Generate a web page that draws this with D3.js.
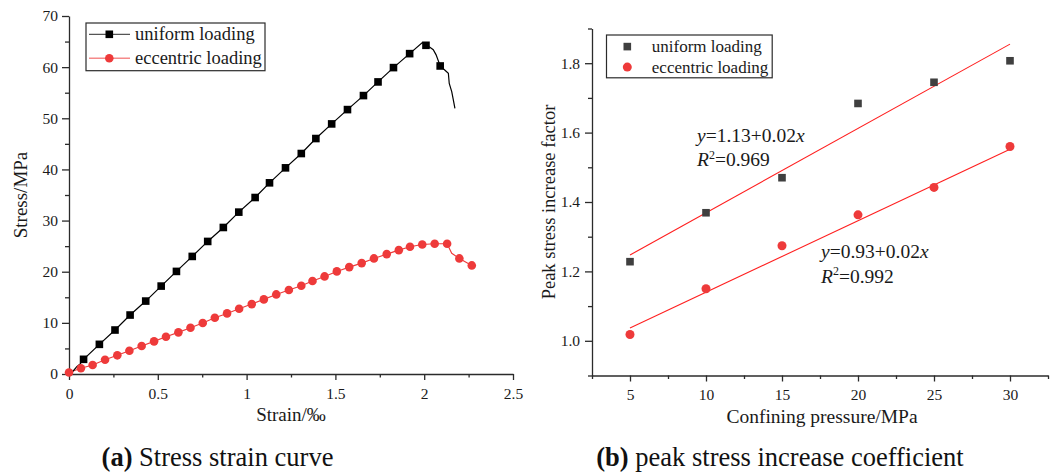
<!DOCTYPE html>
<html>
<head>
<meta charset="utf-8">
<script src="https://cdn.jsdelivr.net/npm/d3@7"></script>
<style>
  html, body { margin: 0; padding: 0; background: #fff; }
  svg { display: block; font-family: "Liberation Serif", "Times New Roman", serif; }
</style>
</head>
<body>
<svg id="fig" width="1056" height="474"></svg>
<script>
// ---------- (a) stress–strain curves ----------
// marker samples
const uniformStrain = [0.082, 0.171, 0.259, 0.344, 0.432, 0.519, 0.605, 0.694, 0.781, 0.869, 0.956, 1.048,
  1.129, 1.219, 1.308, 1.390, 1.479, 1.568, 1.658, 1.740, 1.827, 1.918, 2.010, 2.090];
const uniformStress = [2.87, 5.80, 8.60, 11.53, 14.26, 17.19, 20.06, 22.99, 25.92, 28.65, 31.65, 34.51,
  37.38, 40.31, 43.11, 46.04, 48.90, 51.70, 54.44, 57.11, 59.91, 62.64, 64.27, 60.23];
// extra recorded points between markers (start-up and post-peak branch)
const uniformTraceStrain = [0, 0.025, 0.044, 0.061, 1.990, 2.032, 2.051, 2.067, 2.117, 2.136, 2.141, 2.155, 2.164, 2.173];
const uniformTraceStress = [0, 0.64, 1.43, 1.89, 64.80, 63.90, 63.40, 62.40, 59.40, 58.80, 56.80, 55.20, 53.60, 51.95];

const eccentricStrain = [0.0, 0.067, 0.133, 0.203, 0.272, 0.340, 0.409, 0.479, 0.546, 0.616, 0.684, 0.753,
  0.821, 0.890, 0.958, 1.029, 1.097, 1.167, 1.238, 1.308, 1.371, 1.439, 1.508, 1.578, 1.648, 1.717,
  1.789, 1.857, 1.920, 1.989, 2.059, 2.129, 2.198, 2.268];
const eccentricStress = [0.30, 1.11, 1.76, 2.80, 3.65, 4.56, 5.47, 6.38, 7.29, 8.14, 9.05, 9.96,
  11.00, 11.85, 12.76, 13.67, 14.59, 15.56, 16.41, 17.26, 18.17, 19.08, 20.06, 20.90, 21.68, 22.60,
  23.44, 24.22, 24.87, 25.33, 25.46, 25.46, 22.60, 21.23];
const eccentricTraceStrain = [2.155];
const eccentricTraceStress = [23.60];

const strainTicks = [0, 0.5, 1, 1.5, 2, 2.5];
const stressTicks = [0, 10, 20, 30, 40, 50, 60, 70];

// ---------- (b) peak stress increase factor ----------
const pressure = [5, 10, 15, 20, 25, 30];
const uniformFactor = [1.228, 1.369, 1.470, 1.684, 1.745, 1.807];
const eccentricFactor = [1.018, 1.150, 1.274, 1.363, 1.442, 1.560];
const fitIntercept = [1.126, 0.934];
const fitSlope = [0.0243, 0.0206];
const fitR2 = [0.969, 0.992];

const pressureTicks = [5, 10, 15, 20, 25, 30];
const factorTicks = [1.0, 1.2, 1.4, 1.6, 1.8];

const seriesNames = ["uniform loading", "eccentric loading"];
const captions = [["(a)", " Stress strain curve"], ["(b)", " peak stress increase coefficient"]];

// ---------- styling ----------
const AXIS = "#2b2b2b";
const TEXT = "#1a1a1a";
const RED = "#ee3a3a";
const FIT = "#ff1f1f";
const GREY = "#3f3f3f";

const svg = d3.select("#fig");

function midpoints(ticks, lo, hi) {
  const step = ticks[1] - ticks[0];
  const out = [];
  for (let v = ticks[0] - step / 2; v <= hi + 1e-9; v += step) {
    if (v >= lo - 1e-9) out.push(+v.toFixed(6));
  }
  return out;
}

function drawAxes(g, x, y, xt, yt, xfmt, yfmt, yPad) {
  const xd = x.domain(), yd = y.domain();
  const xAxis = g.append("g").attr("transform", `translate(0,${y.range()[0]})`)
    .call(d3.axisBottom(x).tickValues(xt).tickSize(6).tickSizeOuter(0).tickPadding(7.5).tickFormat(xfmt));
  const xMinor = g.append("g").attr("transform", `translate(0,${y.range()[0]})`)
    .call(d3.axisBottom(x).tickValues(midpoints(xt, xd[0], xd[1])).tickSize(3.5).tickFormat(""));
  xMinor.select(".domain").remove();
  const yAxis = g.append("g").attr("transform", `translate(${x.range()[0]},0)`)
    .call(d3.axisLeft(y).tickValues(yt).tickSize(7).tickSizeOuter(0).tickPadding(yPad).tickFormat(yfmt));
  const yMinor = g.append("g").attr("transform", `translate(${x.range()[0]},0)`)
    .call(d3.axisLeft(y).tickValues(midpoints(yt, yd[0], yd[1])).tickSize(4).tickFormat(""));
  yMinor.select(".domain").remove();
  [xAxis, yAxis, xMinor, yMinor].forEach(a => {
    a.selectAll("path,line").attr("stroke", AXIS).attr("stroke-width", 1.3);
    a.selectAll("text").attr("fill", TEXT).style("font-size", "15.5px")
      .style("font-family", '"Liberation Serif", "Times New Roman", serif');
  });
}

// ====== panel (a) ======
const xa = d3.scaleLinear().domain([0, 2.5]).range([69, 513]);
const ya = d3.scaleLinear().domain([0, 70]).range([374, 16]);
const ga = svg.append("g");
drawAxes(ga, xa, ya, strainTicks, stressTicks, d => String(d), d => String(d), 4);

function mergeTrace(xs, ys, tx, ty) {
  return xs.map((v, i) => [v, ys[i]]).concat(tx.map((v, i) => [v, ty[i]])).sort((a, b) => a[0] - b[0]);
}
const lineA = d3.line().x(d => xa(d[0])).y(d => ya(d[1]));

ga.append("path")
  .datum(mergeTrace(eccentricStrain, eccentricStress, eccentricTraceStrain, eccentricTraceStress))
  .attr("d", lineA).attr("fill", "none").attr("stroke", RED).attr("stroke-width", 1.1);
ga.append("path")
  .datum(mergeTrace(uniformStrain, uniformStress, uniformTraceStrain, uniformTraceStress))
  .attr("d", lineA).attr("fill", "none").attr("stroke", "#000").attr("stroke-width", 1.2);

const sqA = 7.6;
ga.append("g").selectAll("rect").data(uniformStrain.map((v, i) => [v, uniformStress[i]])).join("rect")
  .attr("x", d => xa(d[0]) - sqA / 2).attr("y", d => ya(d[1]) - sqA / 2)
  .attr("width", sqA).attr("height", sqA).attr("fill", "#000");
ga.append("g").selectAll("circle").data(eccentricStrain.map((v, i) => [v, eccentricStress[i]])).join("circle")
  .attr("cx", d => xa(d[0])).attr("cy", d => ya(d[1])).attr("r", 4.3).attr("fill", RED);

// axis titles
ga.append("text").attr("x", 291).attr("y", 421).attr("text-anchor", "middle")
  .attr("fill", TEXT).style("font-size", "19px").text("Strain/\u2030");
ga.append("text").attr("transform", `translate(27,${(ya.range()[0] + ya.range()[1]) / 2}) rotate(-90)`)
  .attr("text-anchor", "middle").attr("fill", TEXT).style("font-size", "19px").text("Stress/MPa");

// legend
const legA = ga.append("g");
legA.append("rect").attr("x", 86).attr("y", 23).attr("width", 179).attr("height", 47.7)
  .attr("fill", "#fff").attr("stroke", AXIS).attr("stroke-width", 1.2);
const legRowsA = [34.3, 58.3];
legA.append("line").attr("x1", 89).attr("x2", 130).attr("y1", legRowsA[0]).attr("y2", legRowsA[0])
  .attr("stroke", "#555").attr("stroke-width", 1.2);
legA.append("rect").attr("x", 109.3 - sqA / 2).attr("y", legRowsA[0] - sqA / 2)
  .attr("width", sqA).attr("height", sqA).attr("fill", "#000");
legA.append("line").attr("x1", 89).attr("x2", 130).attr("y1", legRowsA[1]).attr("y2", legRowsA[1])
  .attr("stroke", "#f58a8a").attr("stroke-width", 1.4);
legA.append("circle").attr("cx", 109.3).attr("cy", legRowsA[1]).attr("r", 4.3).attr("fill", RED);
seriesNames.forEach((s, i) => {
  legA.append("text").attr("x", 135).attr("y", legRowsA[i] + 6).attr("fill", TEXT)
    .style("font-size", "18.5px").text(s);
});

// ====== panel (b) ======
const xb = d3.scaleLinear().domain([2.5, 32.5]).range([592, 1048]);
const yb = d3.scaleLinear().domain([0.9, 1.9]).range([375.5, 28.5]);
const gb = svg.append("g");
drawAxes(gb, xb, yb, pressureTicks, factorTicks, d => String(d), d => d.toFixed(1), 5);

// least-squares lines over the tested pressure range
const xr = d3.extent(pressure);
fitIntercept.forEach((b, i) => {
  gb.append("line")
    .attr("x1", xb(xr[0])).attr("y1", yb(b + fitSlope[i] * xr[0]))
    .attr("x2", xb(xr[1])).attr("y2", yb(b + fitSlope[i] * xr[1]))
    .attr("stroke", FIT).attr("stroke-width", 1.1);
});

const sqB = 7.6;
gb.append("g").selectAll("rect").data(pressure.map((p, i) => [p, uniformFactor[i]])).join("rect")
  .attr("x", d => xb(d[0]) - sqB / 2).attr("y", d => yb(d[1]) - sqB / 2)
  .attr("width", sqB).attr("height", sqB).attr("fill", GREY);
gb.append("g").selectAll("circle").data(pressure.map((p, i) => [p, eccentricFactor[i]])).join("circle")
  .attr("cx", d => xb(d[0])).attr("cy", d => yb(d[1])).attr("r", 4.5).attr("fill", RED);

// fit equations
const eqPos = [[697, 141.5], [821, 258]];
fitIntercept.forEach((b, i) => {
  const [ex, ey] = eqPos[i];
  const t1 = gb.append("text").attr("x", ex).attr("y", ey).attr("fill", TEXT).style("font-size", "19.5px");
  t1.append("tspan").style("font-style", "italic").text("y");
  t1.append("tspan").text(`=${b.toFixed(2)}+${fitSlope[i].toFixed(2)}`);
  t1.append("tspan").style("font-style", "italic").text("x");
  const t2 = gb.append("text").attr("x", ex).attr("y", ey + 24.5).attr("fill", TEXT).style("font-size", "19.5px");
  t2.append("tspan").style("font-style", "italic").text("R");
  t2.append("tspan").attr("dy", -7.5).style("font-size", "12px").text("2");
  t2.append("tspan").attr("dy", 7.5).text(`=${fitR2[i].toFixed(3)}`);
});

// axis titles
gb.append("text").attr("x", 822).attr("y", 423).attr("text-anchor", "middle")
  .attr("fill", TEXT).style("font-size", "19.5px").text("Confining pressure/MPa");
gb.append("text").attr("transform", `translate(555,${(yb.range()[0] + yb.range()[1]) / 2}) rotate(-90)`)
  .attr("text-anchor", "middle").attr("fill", TEXT).style("font-size", "18.5px").text("Peak stress increase factor");

// legend
const legB = gb.append("g");
legB.append("rect").attr("x", 606.5).attr("y", 35).attr("width", 165.7).attr("height", 42.8)
  .attr("fill", "#fff").attr("stroke", AXIS).attr("stroke-width", 1.2);
const legRowsB = [46.6, 67.1];
legB.append("rect").attr("x", 627.3 - sqB / 2).attr("y", legRowsB[0] - sqB / 2)
  .attr("width", sqB).attr("height", sqB).attr("fill", GREY);
legB.append("circle").attr("cx", 627.3).attr("cy", legRowsB[1]).attr("r", 4.5).attr("fill", RED);
seriesNames.forEach((s, i) => {
  legB.append("text").attr("x", 651.8).attr("y", legRowsB[i] + 5.8).attr("fill", TEXT)
    .style("font-size", "17px").text(s);
});

// ====== captions ======
const capX = [217.5, 780];
captions.forEach((c, i) => {
  const t = svg.append("text").attr("x", capX[i]).attr("y", 466).attr("text-anchor", "middle")
    .attr("fill", "#111").style("font-size", "26.5px");
  t.append("tspan").style("font-weight", "bold").text(c[0]);
  t.append("tspan").text(c[1]);
});
</script>
</body>
</html>
